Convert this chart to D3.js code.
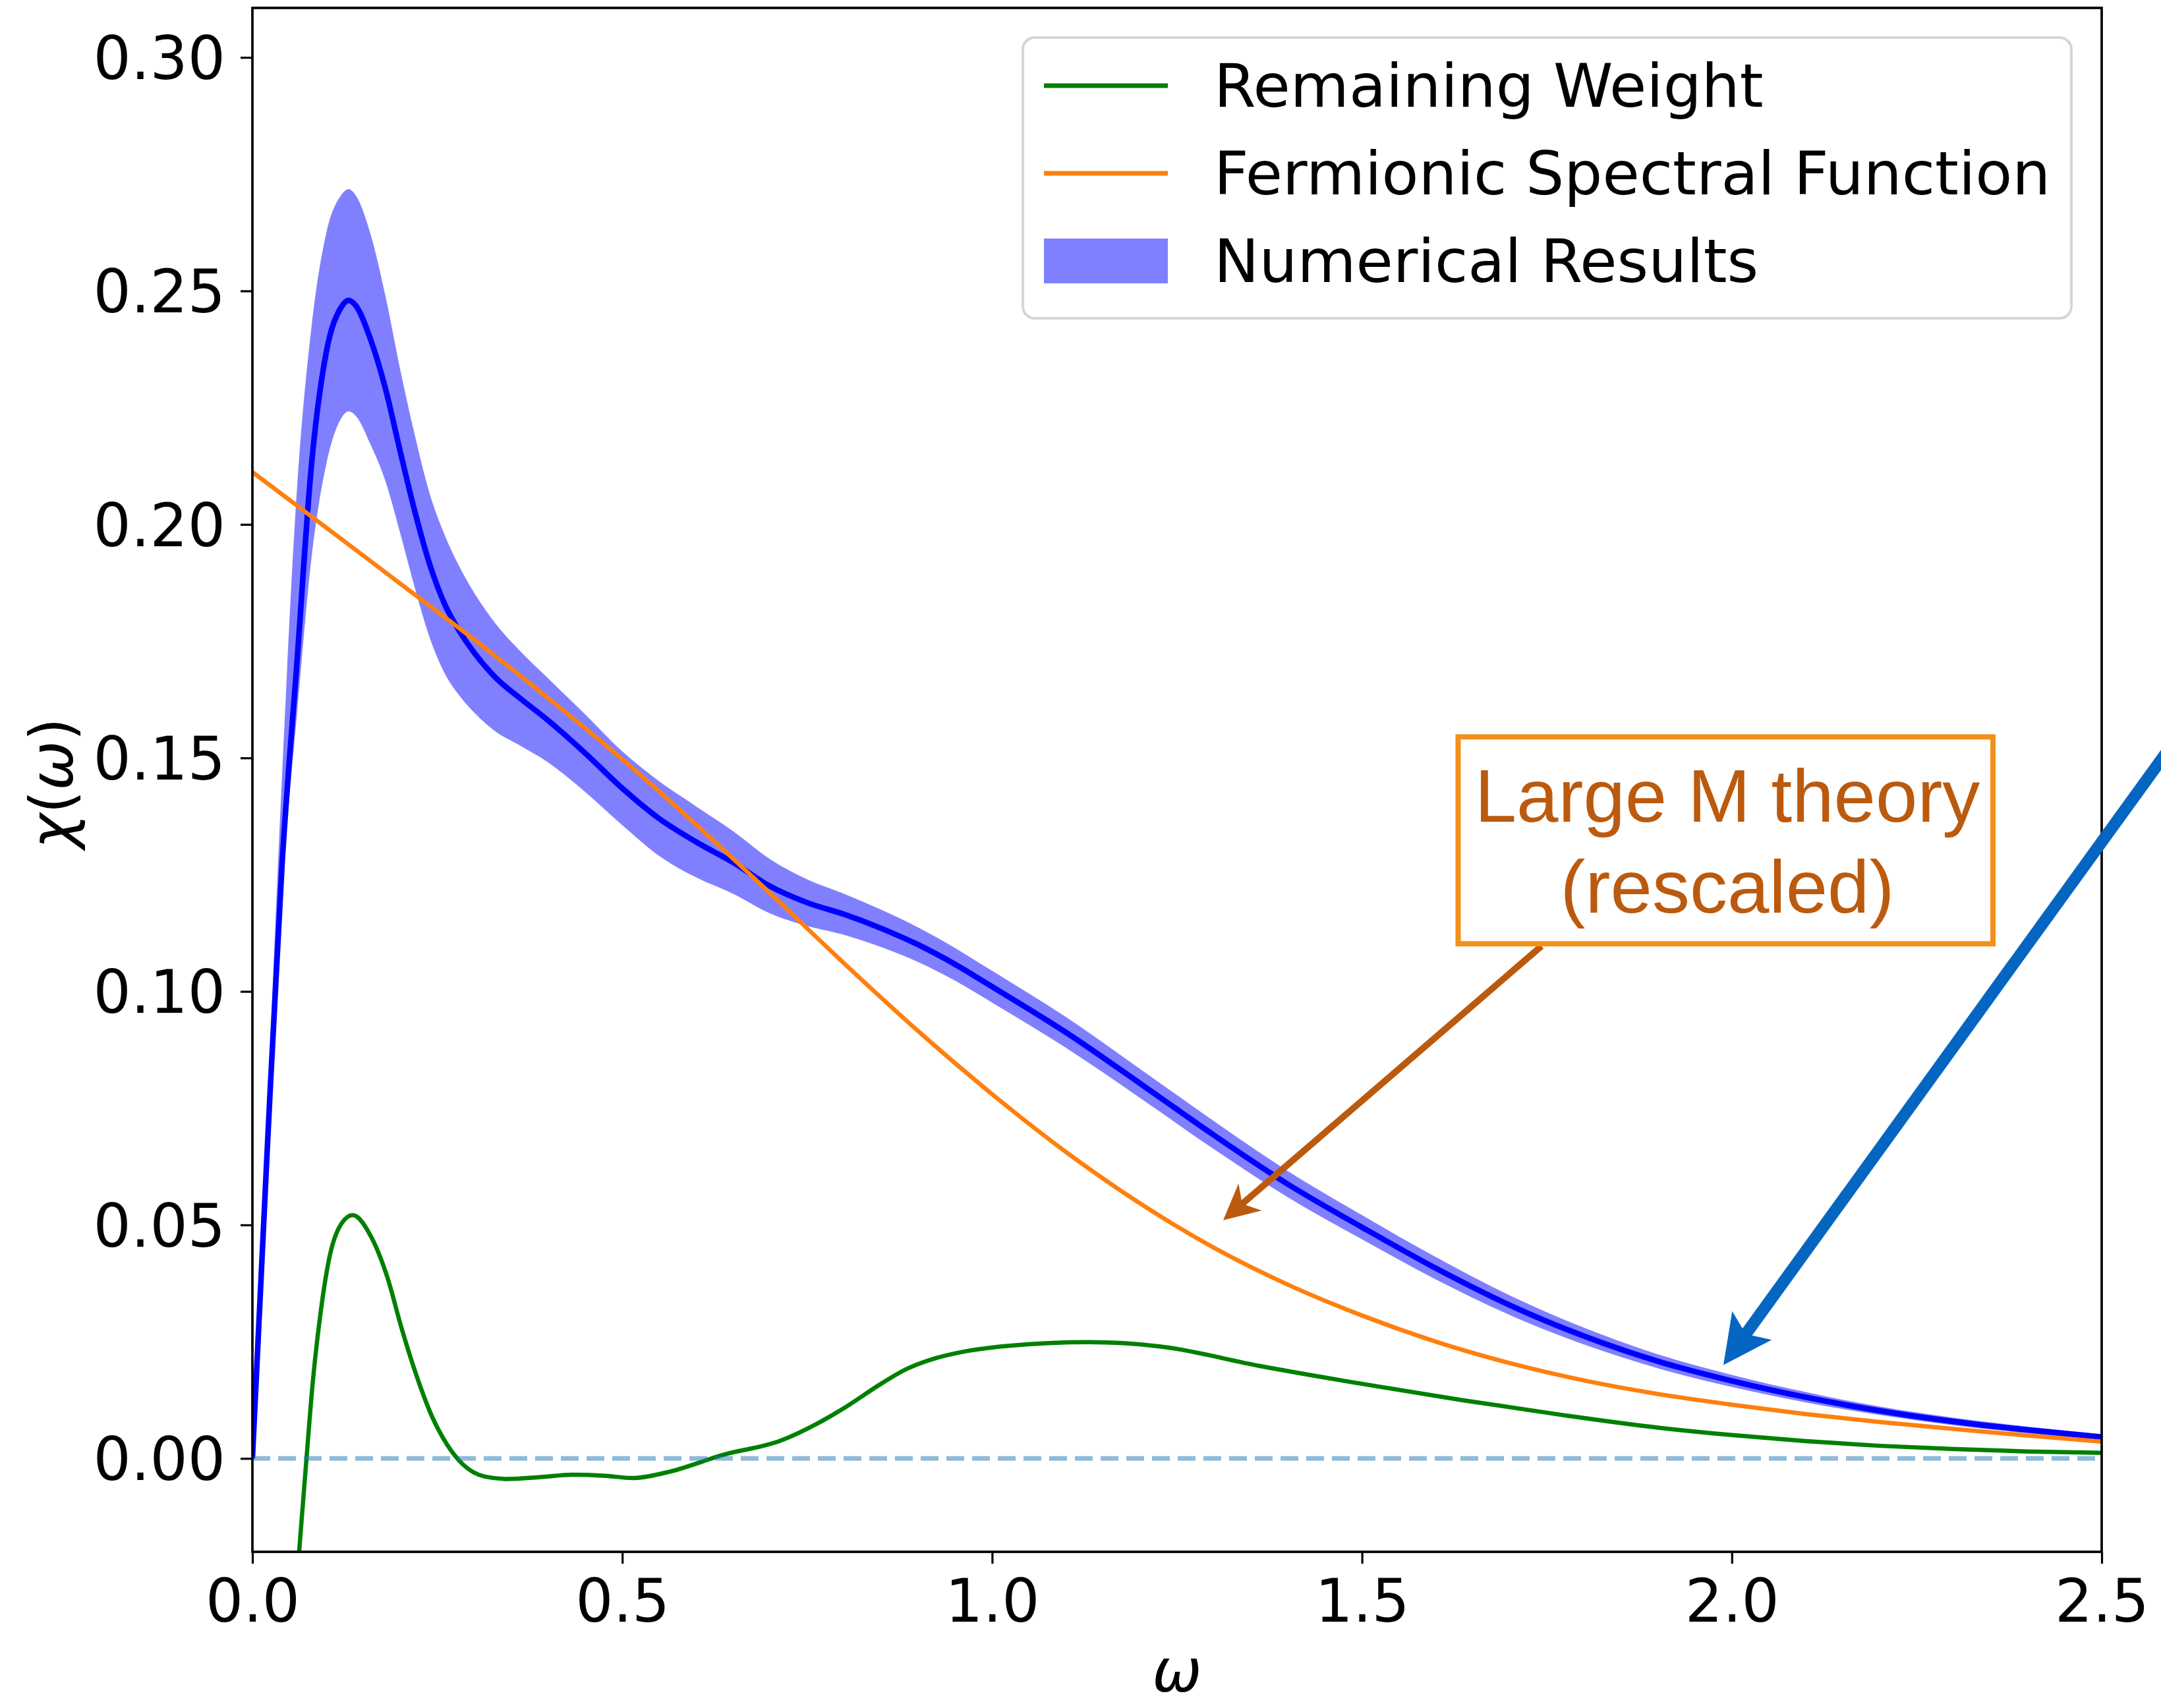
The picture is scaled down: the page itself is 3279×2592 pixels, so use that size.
<!DOCTYPE html>
<html>
<head>
<meta charset="utf-8">
<script src="https://cdn.jsdelivr.net/npm/d3@7"></script>
<style>
  html, body { margin: 0; padding: 0; background: #fff; }
  svg { display: block; }
</style>
</head>
<body>
<div id="chart"></div>
<script>
// values
const omegaNum = [0, 0.02, 0.04, 0.06, 0.08, 0.10, 0.12, 0.13, 0.14, 0.16, 0.18, 0.20, 0.22, 0.24, 0.26, 0.28, 0.30, 0.33, 0.36, 0.40,
  0.45, 0.50, 0.55, 0.60, 0.65, 0.70, 0.75, 0.80, 0.85, 0.90, 0.95, 1.0, 1.1, 1.2, 1.3, 1.4, 1.5, 1.6, 1.7, 1.8,
  1.9, 2.0, 2.1, 2.2, 2.3, 2.4, 2.5];
const chiNum = [0, 0.066, 0.127, 0.170, 0.213, 0.237, 0.2465, 0.248, 0.2468, 0.2395, 0.229, 0.2155, 0.2025, 0.1913, 0.1829, 0.1771, 0.1725, 0.167, 0.163, 0.158,
  0.151, 0.1435, 0.137, 0.132, 0.1276, 0.1225, 0.119, 0.1165, 0.1135, 0.110, 0.1058, 0.101, 0.0912, 0.0803, 0.0692, 0.0587, 0.0495, 0.0407, 0.0328, 0.0262,
  0.0208, 0.0166, 0.0131, 0.0102, 0.0079, 0.0061, 0.0046];
const chiNumHigh = [0, 0.074, 0.146, 0.207, 0.2425, 0.2625, 0.2705, 0.2718, 0.2704, 0.262, 0.2488, 0.233, 0.2188, 0.2064, 0.1977, 0.1909, 0.1853, 0.1785, 0.1732, 0.167,
  0.1593, 0.1514, 0.145, 0.1396, 0.1343, 0.1283, 0.124, 0.1209, 0.1175, 0.1137, 0.1093, 0.1044, 0.0945, 0.0834, 0.0722, 0.0615, 0.0521, 0.0431, 0.0349, 0.0280,
  0.0223, 0.0179, 0.0142, 0.0111, 0.0087, 0.0068, 0.0052];
const chiNumLow = [0, 0.060, 0.121, 0.159, 0.193, 0.213, 0.2227, 0.2242, 0.2232, 0.217, 0.2092, 0.198, 0.1862, 0.1756, 0.1681, 0.1633, 0.1597, 0.1555, 0.1528, 0.149,
  0.1427, 0.1356, 0.129, 0.1244, 0.1209, 0.1167, 0.114, 0.1121, 0.1095, 0.1063, 0.1023, 0.0976, 0.0879, 0.0772, 0.0662, 0.0559, 0.0469, 0.0383, 0.0307, 0.0244,
  0.0193, 0.0153, 0.0120, 0.0093, 0.0071, 0.0054, 0.0040];

const omegaFermi = [0, 0.1, 0.2, 0.3, 0.4, 0.5, 0.6, 0.7, 0.8, 0.9, 1.0, 1.1, 1.2, 1.3, 1.4, 1.5, 1.6, 1.7, 1.8, 1.9, 2.0, 2.1, 2.2, 2.3, 2.4, 2.5];
const chiFermi = [0.2112, 0.1993, 0.1873, 0.1753, 0.1628, 0.1497, 0.1357, 0.1210, 0.1060, 0.0915, 0.0780, 0.0656, 0.0546, 0.0451, 0.0372, 0.0306, 0.0250, 0.0204, 0.0167, 0.0138,
  0.0115, 0.0095, 0.0078, 0.0063, 0.0049, 0.0036];

const omegaRemain = [0.05, 0.0628, 0.0731, 0.0817, 0.092, 0.1047, 0.12, 0.1354, 0.161, 0.182, 0.202, 0.223, 0.243, 0.263, 0.284, 0.3145, 0.345, 0.39, 0.432, 0.475,
  0.514, 0.56, 0.637, 0.714, 0.764, 0.80, 0.85, 0.885, 0.92, 0.953, 1.021, 1.131, 1.226, 1.362, 1.499, 1.635, 1.771, 1.9, 2.0, 2.1, 2.2, 2.3, 2.4, 2.5];
const chiRemain = [-0.046, -0.0207, 0.0, 0.0165, 0.031, 0.0435, 0.0502, 0.0521, 0.0473, 0.039, 0.0277, 0.0172, 0.0089, 0.003, -0.0012, -0.0039, -0.0044, -0.004, -0.0035, -0.0037,
  -0.0042, -0.003, 0.0008, 0.0038, 0.0075, 0.0108, 0.0160, 0.0192, 0.0213, 0.0226, 0.0241, 0.0249, 0.024, 0.0198, 0.016, 0.0125, 0.0093, 0.0066, 0.0050, 0.0037,
  0.0027, 0.0020, 0.0015, 0.0012];

const xTicks = [0, 0.5, 1.0, 1.5, 2.0, 2.5];
const yTicks = [0, 0.05, 0.10, 0.15, 0.20, 0.25, 0.30];
const legendLabels = ["Remaining Weight", "Fermionic Spectral Function", "Numerical Results"];
const noteLines = ["Large M theory", "(rescaled)"];

// Dimensions
const width = 3279;
const height = 2592;
const margin = { top: 12, right: 90, bottom: 237, left: 383 };
const font = "DejaVu Sans";
const fs = 90;

const svg = d3.select("#chart")
    .append("svg")
    .attr("width", width)
    .attr("height", height);

svg.append("rect").attr("width", width).attr("height", height).attr("fill", "#fff");

// Scales
const x = d3.scaleLinear()
    .domain([0, 2.5])
    .range([margin.left, width - margin.right]);

const y = d3.scaleLinear()
    .domain([-0.02, 0.3106])
    .range([height - margin.bottom, margin.top]);

svg.append("clipPath").attr("id", "plot-area")
    .append("rect")
    .attr("x", x(0)).attr("y", y(0.3106))
    .attr("width", x(2.5) - x(0)).attr("height", y(-0.02) - y(0.3106));

const plot = svg.append("g").attr("clip-path", "url(#plot-area)");

const numRows = omegaNum.map((w, i) => ({ w, c: chiNum[i], lo: chiNumLow[i], hi: chiNumHigh[i] }));
const fermiRows = omegaFermi.map((w, i) => ({ w, c: chiFermi[i] }));
const remainRows = omegaRemain.map((w, i) => ({ w, c: chiRemain[i] }));

// error band of the numerical results
plot.append("path")
    .datum(numRows)
    .attr("fill", "#8080ff")
    .attr("d", d3.area()
        .x(d => x(d.w))
        .y0(d => y(d.lo))
        .y1(d => y(d.hi))
        .curve(d3.curveMonotoneX));

const line = d3.line()
    .x(d => x(d.w))
    .y(d => y(d.c))
    .curve(d3.curveMonotoneX);

plot.append("path").datum(numRows)
    .attr("fill", "none").attr("stroke", "#0000ff").attr("stroke-width", 8.5)
    .attr("d", line);

plot.append("path").datum(remainRows)
    .attr("fill", "none").attr("stroke", "#008000").attr("stroke-width", 6.5)
    .attr("d", line);

plot.append("path").datum(fermiRows)
    .attr("fill", "none").attr("stroke", "#ff7f0e").attr("stroke-width", 6.5)
    .attr("d", line);

// zero reference
plot.append("line")
    .attr("x1", x(0)).attr("x2", x(2.5))
    .attr("y1", y(0)).attr("y2", y(0))
    .attr("stroke", "#1f77b4").attr("stroke-opacity", 0.5)
    .attr("stroke-width", 7).attr("stroke-dasharray", "27,12");

// Axes
const gx = svg.append("g")
    .attr("transform", `translate(0,${y(-0.02)})`)
    .call(d3.axisBottom(x).tickValues(xTicks).tickFormat(d3.format(".1f")).tickSize(18).tickPadding(24));
gx.select(".domain").remove();

const gy = svg.append("g")
    .attr("transform", `translate(${x(0)},0)`)
    .call(d3.axisLeft(y).tickValues(yTicks).tickFormat(d3.format(".2f")).tickSize(18).tickPadding(23));
gy.select(".domain").remove();

[gx, gy].forEach(g => {
    g.attr("font-family", font).attr("font-size", fs);
    g.selectAll(".tick line").attr("stroke", "#000").attr("stroke-width", 3.2);
    g.selectAll(".tick text").attr("fill", "#000");
});
gy.selectAll(".tick text").attr("dy", "0.36em");

// spines
svg.append("rect")
    .attr("x", x(0)).attr("y", y(0.3106))
    .attr("width", x(2.5) - x(0)).attr("height", y(-0.02) - y(0.3106))
    .attr("fill", "none").attr("stroke", "#000").attr("stroke-width", 3.7);

// axis labels
svg.append("text")
    .attr("x", (x(0) + x(2.5)) / 2)
    .attr("y", 2567)
    .attr("text-anchor", "middle")
    .attr("font-family", font).attr("font-size", fs)
    .attr("font-style", "italic")
    .text("ω");

const ylab = svg.append("text")
    .attr("transform", `translate(110,${(y(-0.02) + y(0.3106)) / 2 + 5}) rotate(-90)`)
    .attr("text-anchor", "middle")
    .attr("font-family", font).attr("font-size", fs);
ylab.append("tspan").attr("font-style", "italic").text("χ");
ylab.append("tspan").text("(");
ylab.append("tspan").attr("font-style", "italic").text("ω");
ylab.append("tspan").text(")");

// Legend
const legend = svg.append("g");
legend.append("rect")
    .attr("x", 1552).attr("y", 57)
    .attr("width", 1591).attr("height", 426)
    .attr("rx", 18)
    .attr("fill", "#fff").attr("fill-opacity", 0.8)
    .attr("stroke", "#d6d6d6").attr("stroke-width", 4);

const legendColors = ["#008000", "#ff7f0e", "#8080ff"];
legendLabels.forEach((label, i) => {
    const cy = 130 + i * 133;
    if (i < 2) {
        legend.append("line")
            .attr("x1", 1584).attr("x2", 1772)
            .attr("y1", cy).attr("y2", cy)
            .attr("stroke", legendColors[i]).attr("stroke-width", 7);
    } else {
        legend.append("rect")
            .attr("x", 1584).attr("y", cy - 34)
            .attr("width", 188).attr("height", 68)
            .attr("fill", legendColors[i]);
    }
    legend.append("text")
        .attr("x", 1842).attr("y", cy + 32)
        .attr("font-family", font).attr("font-size", 91.5)
        .attr("fill", "#000")
        .text(label);
});

// Annotations
function arrow(tail, tip, w, headLen, headHalf, notch, color) {
    const x0 = x(tail[0]), y0 = y(tail[1]);
    const x1 = x(tip[0]), y1 = y(tip[1]);
    const len = Math.hypot(x1 - x0, y1 - y0);
    const ux = (x1 - x0) / len, uy = (y1 - y0) / len;
    const px = -uy, py = ux;
    const nx = x1 - ux * notch, ny = y1 - uy * notch;
    svg.append("line")
        .attr("x1", x0).attr("y1", y0)
        .attr("x2", nx + ux * 2).attr("y2", ny + uy * 2)
        .attr("stroke", color).attr("stroke-width", w);
    const bx = x1 - ux * headLen, by = y1 - uy * headLen;
    svg.append("path")
        .attr("d", `M${x1},${y1} L${bx + px * headHalf},${by + py * headHalf} L${nx},${ny} L${bx - px * headHalf},${by - py * headHalf} Z`)
        .attr("fill", color);
}

arrow([1.7427, 0.1097], [1.3124, 0.051], 10, 54, 27, 38, "#bb5a0e");
arrow([2.70, 0.1758], [1.9886, 0.020], 18, 74, 37, 58, "#0566c1");

const note = svg.append("g");
note.append("rect")
    .attr("x", x(1.630)).attr("y", y(0.1545))
    .attr("width", x(2.353) - x(1.630)).attr("height", y(0.1102) - y(0.1545))
    .attr("fill", "#fff")
    .attr("stroke", "#f39019").attr("stroke-width", 8);
noteLines.forEach((t, i) => {
    note.append("text")
        .attr("x", 2621)
        .attr("y", 1247 + i * 138)
        .attr("text-anchor", "middle")
        .attr("font-family", "Liberation Sans")
        .attr("font-size", 114)
        .attr("fill", "#bb5a0e")
        .text(t);
});
</script>
</body>
</html>
